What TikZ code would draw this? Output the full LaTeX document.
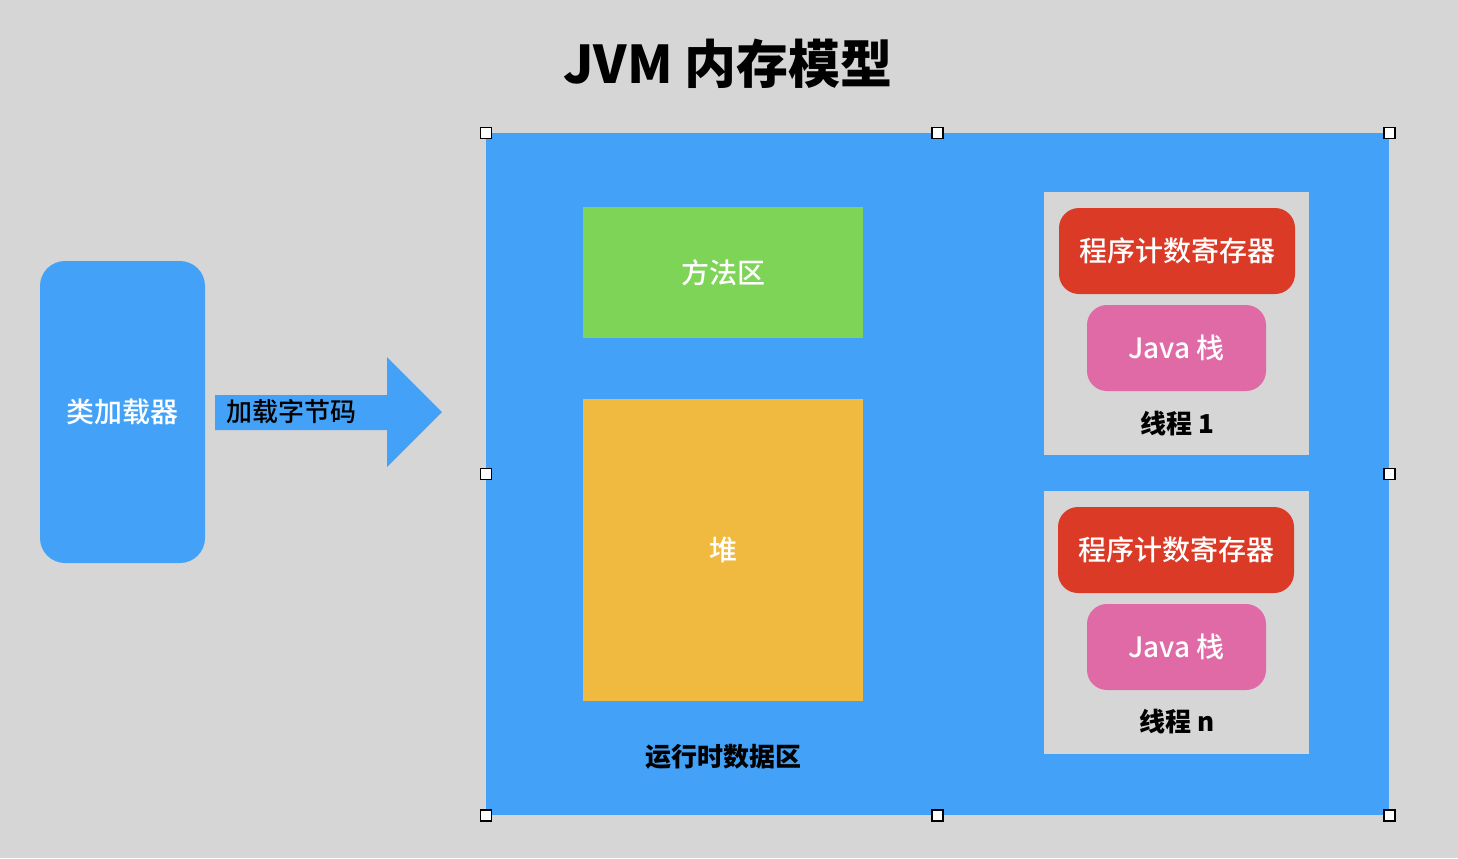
\documentclass[tikz,border=0pt]{standalone}
\usepackage{fontspec}
\setmainfont{Noto Sans CJK SC}
\newfontfamily\medfont{Noto Sans CJK SC Medium}
\usepackage{xcolor}
\usetikzlibrary{positioning}
\definecolor{bggray}{HTML}{D6D6D6}
\definecolor{jvmblue}{HTML}{43A2F7}
\definecolor{areagreen}{HTML}{7ED457}
\definecolor{heaporange}{HTML}{F0BA41}
\definecolor{pcred}{HTML}{DB3A26}
\definecolor{stackpink}{HTML}{DF6AA5}
\tikzset{
  area/.style={
    rectangle, inner sep=0pt,
    font=\fontsize{14pt}{16pt}\medfont, text=white
  },
  threadbox/.style={area, fill=bggray, minimum width=132.5pt, minimum height=131.5pt},
  pcbox/.style={area, fill=pcred, rounded corners=10pt,
    minimum width=118pt, minimum height=43pt},
  stackbox/.style={area, fill=stackpink, rounded corners=10pt,
    minimum width=89.5pt, minimum height=43pt},
  tag/.style={font=\fontsize{13pt}{15pt}\bfseries, text=black},
  handle/.style={draw=black, fill=white, line width=0.6pt,
    minimum size=5.5pt, inner sep=0pt},
}

\begin{document}
\begin{tikzpicture}[x=0.5pt, y=-0.5pt]
  % Fondo
  \fill[bggray] (0,0) rectangle (1458,858);
  \useasboundingbox (0,0) rectangle (1458,858);

  \node[font=\fontsize{26pt}{29pt}\selectfont\bfseries] (title) at (728,64) {JVM 内存模型};

  % Cargador de clases
  \node[area, fill=jvmblue, rounded corners=12.5pt,
    minimum width=82.5pt, minimum height=151pt] (loader) at (122.5,412) {类加载器};

  % Flecha
  \fill[jvmblue] (215,395) -- (387,395) -- (387,357) -- (442,412)
    -- (387,467) -- (387,430) -- (215,430) -- cycle;
  \node[font=\fontsize{13pt}{15pt}\medfont] (load) at (291,412) {加载字节码};

  % Zona de datos
  \node[area, fill=jvmblue, minimum width=451.5pt, minimum height=341pt] (jvm) at (937.5,474) {};
  \node[area, fill=areagreen, minimum width=140pt, minimum height=65.5pt] (method) at (723,272.5) {方法区};
  \node[area, fill=heaporange, minimum width=140pt, minimum height=151pt] (heap) at (723,550) {堆};
  \node[tag] (runtime) at (723,757) {运行时数据区};

  % Hilo 1
  \node[threadbox] (thread1) at (1176.5,323.5) {};
  \node[pcbox] (pc1) at (1177,251) {程序计数寄存器};
  \node[stackbox] (stack1) at (1176.5,348) {Java 栈};
  \node[tag] (label1) at (1177,424) {线程 1};

  % Hilo n
  \node[threadbox] (threadn) at (1176.5,622.5) {};
  \node[pcbox] (pcn) at (1176,550) {程序计数寄存器};
  \node[stackbox] (stackn) at (1176.5,647) {Java 栈};
  \node[tag] (labeln) at (1177,722) {线程 n};

  % Tiradores
  \foreach \a in {north west, north, north east, west, east, south west, south, south east}
    \node[handle] at (jvm.\a) {};
\end{tikzpicture}
\end{document}
